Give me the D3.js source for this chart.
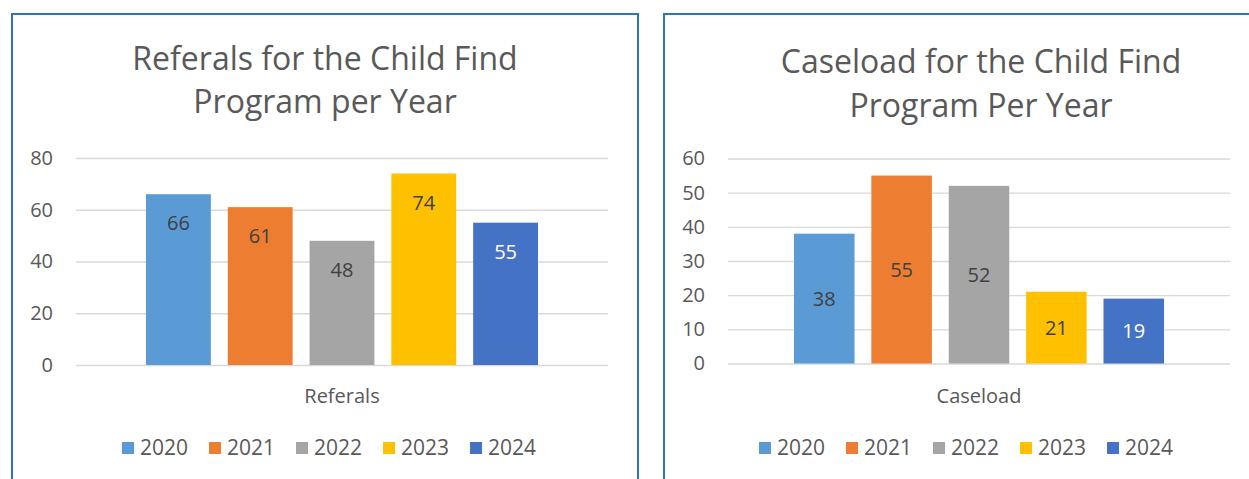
<!DOCTYPE html>
<html><head><meta charset="utf-8">
<script src="https://cdn.jsdelivr.net/npm/d3@7"></script>
<style>body{margin:0;background:#fff;} text{font-family:"Open Sans",sans-serif;}</style>
</head><body>
<svg id="c" width="1249" height="479"></svg>
<script>
const years = ["2020","2021","2022","2023","2024"];
const colors = ["#5B9BD5","#ED7D31","#A5A5A5","#FFC000","#4472C4"];
const referrals = [66,61,48,74,55];
const caseload = [38,55,52,21,19];
const refTicks = [0,20,40,60,80];
const caseTicks = [0,10,20,30,40,50,60];

const svg = d3.select("#c");
const textColor = "#595959";

function chart(cfg){
  const g = svg.append("g");
  g.append("rect").attr("x",cfg.box[0]).attr("y",cfg.box[1]).attr("width",cfg.box[2]).attr("height",cfg.box[3])
    .attr("fill","#fff").attr("stroke","#2E75B6").attr("stroke-width",2);
  cfg.title.forEach((t,i)=>{
    g.append("text").attr("x",cfg.titleX).attr("y",cfg.titleY[i]).attr("text-anchor","middle")
      .attr("font-size",cfg.titleSize).attr("fill",textColor).text(t);
  });
  const y = d3.scaleLinear().domain([0,d3.max(cfg.ticks)]).range([cfg.y0,cfg.y1]);
  const x = d3.scaleBand().domain(years).range([cfg.barStart,cfg.barEnd]).paddingInner(cfg.padIn).paddingOuter(0);
  const axis = d3.axisLeft(y).tickValues(cfg.ticks).tickSize(-(cfg.gridX1-cfg.gridX0)).tickPadding(cfg.gridX0-cfg.tickX);
  const ag = g.append("g").attr("transform",`translate(${cfg.gridX0},0)`).call(axis);
  ag.select(".domain").remove();
  ag.selectAll("line").attr("stroke","#D9D9D9").attr("stroke-width",1.3);
  ag.selectAll("text").attr("font-size",20).attr("fill",textColor).attr("font-family","Open Sans");
  g.selectAll("rect.bar").data(cfg.values).join("rect").attr("class","bar")
    .attr("x",(d,i)=>x(years[i])).attr("width",x.bandwidth())
    .attr("y",d=>y(d)).attr("height",d=>y(0)-y(d)).attr("fill",(d,i)=>colors[i]);
  g.selectAll("text.lbl").data(cfg.values).join("text").attr("class","lbl")
    .attr("x",(d,i)=>x(years[i])+x.bandwidth()/2)
    .attr("y",d=> cfg.center ? (y(d)+y(0))/2 : y(d)+29)
    .attr("dy","0.35em").attr("text-anchor","middle").attr("font-size",20)
    .attr("fill",(d,i)=> i===4 ? "#fff" : "#404040").text(d=>d);
  g.append("text").attr("x",cfg.catX).attr("y",396).attr("dy","0.35em").attr("text-anchor","middle")
    .attr("font-size",20).attr("fill",textColor).text(cfg.cat);
  years.forEach((yr,i)=>{
    const lx = cfg.legX + i*87;
    g.append("rect").attr("x",lx).attr("y",442).attr("width",12).attr("height",12).attr("fill",colors[i]);
    g.append("text").attr("x",lx+18).attr("y",448).attr("dy","0.35em").attr("font-size",21)
      .attr("fill",textColor).text(yr);
  });
}

chart({box:[12,14,626,480], title:["Referals for the Child Find","Program per Year"], titleX:325, titleY:[70,113], titleSize:32,
  ticks:refTicks, values:referrals, y0:365, y1:158, gridX0:76, gridX1:608, tickX:53,
  barStart:146, barEnd:538, padIn:17/82, center:false, cat:"Referals", catX:342, legX:122});
chart({box:[664,14,600,480], title:["Caseload for the Child Find","Program Per Year"], titleX:981, titleY:[73,117], titleSize:32,
  ticks:caseTicks, values:caseload, y0:363.5, y1:158.5, gridX0:728, gridX1:1230, tickX:705,
  barStart:794, barEnd:1164, padIn:17/78, center:true, cat:"Caseload", catX:979, legX:759});
</script>
</body></html>
